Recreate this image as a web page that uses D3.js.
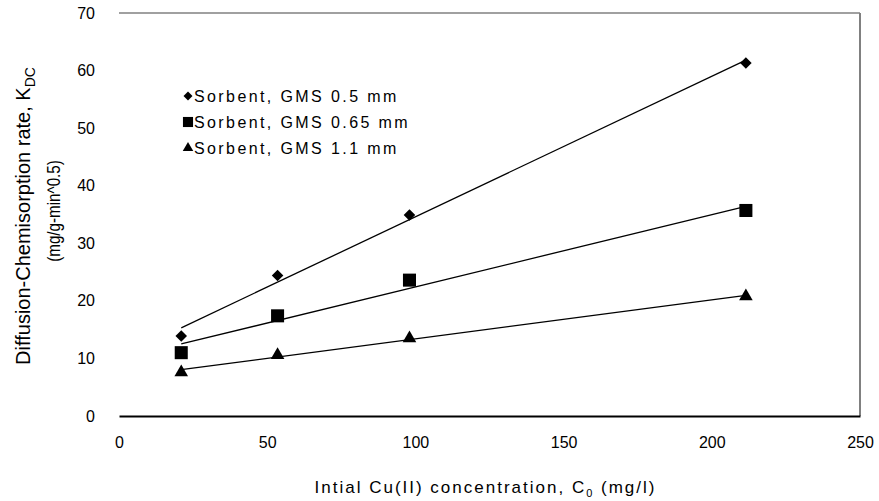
<!DOCTYPE html>
<html>
<head>
<meta charset="utf-8">
<script src="https://cdn.jsdelivr.net/npm/d3@7"></script>
<style>
  body { margin: 0; background: #fff; }
  text { font-family: "Liberation Sans", Arial, sans-serif; fill: #000; }
</style>
</head>
<body>
<svg width="879" height="501"></svg>
<script>
// data
var conc = [21, 53.5, 98, 211.5];
var gms05 = [13.9, 24.4, 34.9, 61.3];
var gms065 = [11.0, 17.4, 23.6, 35.7];
var gms11 = [7.6, 10.6, 13.5, 20.8];
var seriesNames = ["Sorbent, GMS 0.5 mm", "Sorbent, GMS 0.65 mm", "Sorbent, GMS 1.1 mm"];
var xTicks = [0, 50, 100, 150, 200, 250];
var yTicks = [0, 10, 20, 30, 40, 50, 60, 70];

var margin = {top: 13, right: 19, bottom: 85, left: 119};
var svg = d3.select("svg"),
    width = +svg.attr("width") - margin.left - margin.right,
    height = +svg.attr("height") - margin.top - margin.bottom;

var x = d3.scaleLinear().domain([0, 250]).range([0, width]);
var y = d3.scaleLinear().domain([0, 70]).range([height, 0]);

var g = svg.append("g")
    .attr("transform", "translate(" + margin.left + "," + margin.top + ")");

// frame: grey top + right, black bottom
g.append("line").attr("x1", 0).attr("x2", width).attr("y1", 0).attr("y2", 0)
    .attr("stroke", "#808080").attr("stroke-width", 1.5);
g.append("line").attr("x1", width).attr("x2", width).attr("y1", 0).attr("y2", height)
    .attr("stroke", "#808080").attr("stroke-width", 2);

var xAxis = g.append("g")
    .attr("transform", "translate(0," + height + ")")
    .call(d3.axisBottom(x).tickValues(xTicks).tickSize(0).tickPadding(21));
xAxis.select(".domain").attr("stroke", "#000").attr("stroke-width", 2);
xAxis.selectAll("text").style("font-size", "16px").style("font-family", "Liberation Sans, Arial, sans-serif");

var yAxis = g.append("g")
    .call(d3.axisLeft(y).tickValues(yTicks).tickSize(0).tickPadding(24));
yAxis.select(".domain").remove();
yAxis.selectAll("text").style("font-size", "16px").style("font-family", "Liberation Sans, Arial, sans-serif");

var series = [
  {name: seriesNames[0], values: gms05, shape: d3.symbolDiamond2, size: 85},
  {name: seriesNames[1], values: gms065, shape: d3.symbolSquare, size: 170},
  {name: seriesNames[2], values: gms11, shape: d3.symbolTriangle, size: 80}
];

// linear trend lines (least squares, like the spreadsheet did)
function fit(xs, ys) {
  var mx = d3.mean(xs), my = d3.mean(ys);
  var sxy = d3.sum(xs, function(v, i) { return (v - mx) * (ys[i] - my); });
  var sxx = d3.sum(xs, function(v) { return (v - mx) * (v - mx); });
  var b = sxy / sxx;
  return function(v) { return my + b * (v - mx); };
}

var line = d3.line().x(function(d) { return x(d[0]); }).y(function(d) { return y(d[1]); });

series.forEach(function(s) {
  var f = fit(conc, s.values);
  var ends = d3.extent(conc);
  g.append("path")
    .attr("d", line(ends.map(function(v) { return [v, f(v)]; })))
    .attr("fill", "none").attr("stroke", "#000").attr("stroke-width", 1.3);

  g.selectAll(null)
    .data(conc.map(function(v, i) { return [v, s.values[i]]; }))
    .enter().append("path")
    .attr("transform", function(d) { return "translate(" + x(d[0]) + "," + y(d[1]) + ")"; })
    .attr("d", d3.symbol().type(s.shape).size(s.size))
    .attr("fill", "#000");
});

// legend
var legend = svg.append("g").attr("transform", "translate(188,96)");
series.forEach(function(s, i) {
  var row = legend.append("g").attr("transform", "translate(0," + (i * 26) + ")");
  row.append("path")
    .attr("d", d3.symbol().type(s.shape).size(s.size * 0.6))
    .attr("fill", "#000");
  row.append("text")
    .attr("x", 6).attr("dy", "0.36em")
    .style("font-size", "16px")
    .style("letter-spacing", "2.4px")
    .text(s.name);
});

// axis titles
var xt = svg.append("text")
    .attr("x", margin.left + width / 2 - 4).attr("y", 493)
    .attr("text-anchor", "middle")
    .style("font-size", "17px")
    .style("letter-spacing", "2px");
xt.append("tspan").text("Intial Cu(II) concentration, C");
xt.append("tspan").attr("dy", 4).style("font-size", "11px").text("0");
xt.append("tspan").attr("dy", -4).text(" (mg/l)");

var yt = svg.append("text")
    .attr("transform", "translate(30,216) rotate(-90)")
    .attr("text-anchor", "middle")
    .style("font-size", "20px");
yt.append("tspan").text("Diffusion-Chemisorption rate, K");
yt.append("tspan").attr("dy", 5).style("font-size", "14px").text("DC");

svg.append("text")
    .attr("transform", "translate(60,211) rotate(-90) scale(0.8,1)")
    .attr("text-anchor", "middle")
    .style("font-size", "19px")
    .text("(mg/g-min^0.5)");
</script>
</body>
</html>
